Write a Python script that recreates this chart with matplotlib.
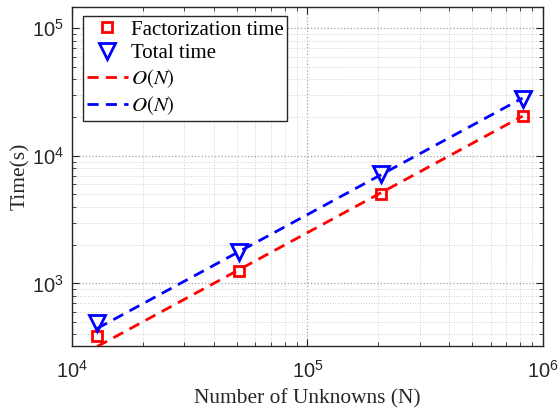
import matplotlib
matplotlib.use("Agg")
import matplotlib.pyplot as plt
from matplotlib.ticker import LogLocator, NullFormatter
from matplotlib.font_manager import FontProperties

plt.rcParams['mathtext.fontset'] = 'custom'
plt.rcParams['mathtext.rm'] = 'Liberation Sans'
plt.rcParams['mathtext.it'] = 'Liberation Sans:italic'
plt.rcParams['font.family'] = ['Liberation Sans', 'DejaVu Sans']

# Data
unknowns = [12800, 51200, 204800, 819200]
fact_time = [386, 1249, 5012, 20560]
total_time = [491, 1770, 7200, 27800]
ref_fact = [320, 1281, 5125, 20500]
ref_total = [444, 1775, 7100, 28400]
labels = ['Factorization time', 'Total time', '$O(N)$', '$O(N)$']

fig = plt.figure(figsize=(5.6, 4.12), dpi=100)
ax = fig.add_axes([0.1286, 0.1602, 0.8410, 0.8228])

h1, = ax.plot(unknowns, fact_time, linestyle='none', marker='s', ms=7.5,
              mfc='none', mec='red', mew=2.0, zorder=4)
h2, = ax.plot(unknowns, total_time, linestyle='none', marker='v', ms=11,
              mfc='none', mec='blue', mew=2.0, zorder=4)
h3, = ax.plot(unknowns, ref_fact, color='red', lw=2.0, dashes=(4, 2.6), zorder=3)
h4, = ax.plot(unknowns, ref_total, color='blue', lw=2.0, dashes=(4, 2.6), zorder=3)

ax.set_xscale('log')
ax.set_yscale('log')
ax.set_xlim(1e4, 1e6)
ax.set_ylim(323, 1.47e5)

ax.xaxis.set_major_locator(LogLocator(base=10, numticks=10))
ax.yaxis.set_major_locator(LogLocator(base=10, numticks=10))
ax.xaxis.set_minor_locator(LogLocator(base=10, subs=range(2, 10), numticks=20))
ax.yaxis.set_minor_locator(LogLocator(base=10, subs=range(2, 10), numticks=20))
ax.xaxis.set_minor_formatter(NullFormatter())
ax.yaxis.set_minor_formatter(NullFormatter())

ax.tick_params(which='both', direction='in', top=True, right=True, colors='#262626')
ax.tick_params(which='major', length=5, width=0.8, labelsize=14.5, labelcolor='#262626')
ax.tick_params(axis='x', which='major', pad=10)
ax.tick_params(axis='y', which='major', pad=6)
ax.tick_params(which='minor', length=2.8, width=0.6)
for s in ax.spines.values():
    s.set_color('#262626')
    s.set_linewidth(1.0)

ax.grid(True, which='major', linestyle=':', color='#a0a0a0', linewidth=0.9)
ax.grid(True, which='minor', linestyle=':', color='#d0d0d0', linewidth=0.7)
ax.set_axisbelow(True)

serif = 'Liberation Serif'
ax.set_xlabel('Number of Unknowns (N)', fontfamily=serif, fontsize=15.4, color='#262626', labelpad=5)
ax.set_ylabel('Time(s)', fontfamily=serif, fontsize=15.4, color='#262626', labelpad=1)

legprop = FontProperties(family=serif, size=15, math_fontfamily='stix')
leg = ax.legend([h1, h2, h3, h4], labels, loc='upper left',
                bbox_to_anchor=(0.0234, 0.972), borderaxespad=0,
                prop=legprop, handlelength=1.97,
                handletextpad=0.15, labelspacing=0.2, borderpad=0.17,
                fancybox=False, framealpha=1, edgecolor='#262626')
leg.get_frame().set_linewidth(1.0)

fig.savefig('out.png', dpi=100)
